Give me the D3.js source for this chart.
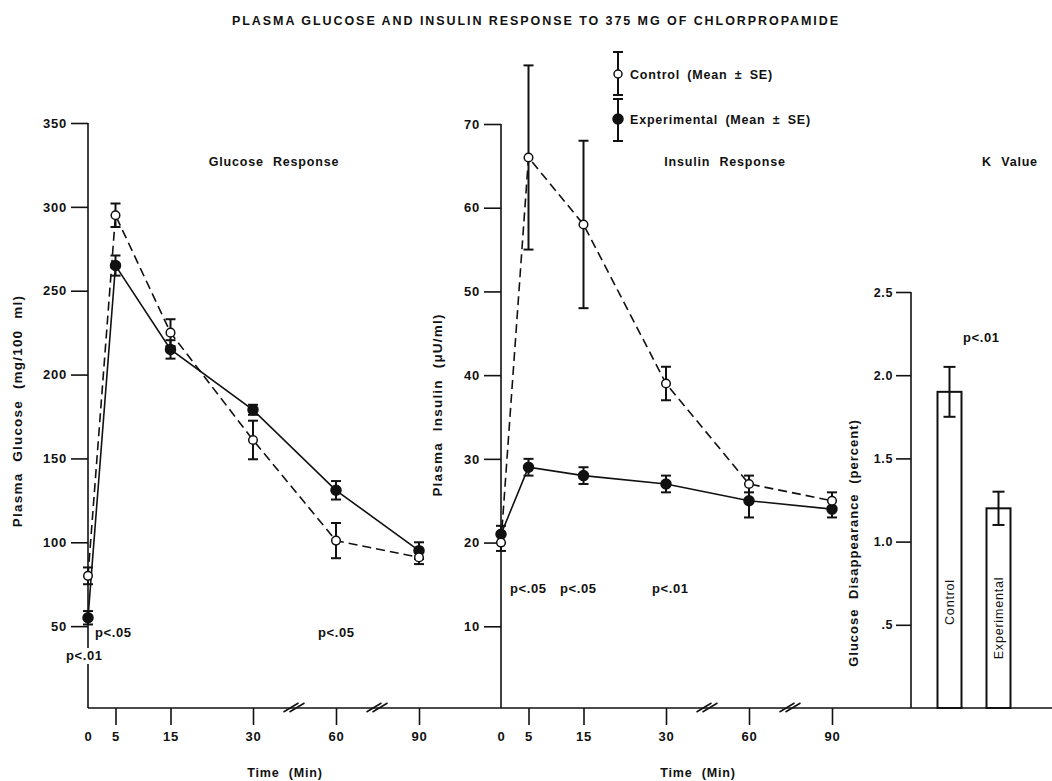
<!DOCTYPE html>
<html>
<head>
<meta charset="utf-8">
<script src="https://cdn.jsdelivr.net/npm/d3@7"></script>
<style>
  html, body { margin: 0; padding: 0; background: #fff; }
  svg { display: block; }
  text { font-family: "Liberation Sans", Arial, sans-serif; fill: #111; font-weight: bold; }
</style>
</head>
<body>
<svg id="chart" width="1052" height="781"></svg>
<script>
// ---------------- data ----------------
const times = [0, 5, 15, 30, 60, 90];
const glucoseControl = [80, 295, 225, 161, 101, 91];
const glucoseControlSE = [5, 7, 8, 11.5, 10.5, 4];
const glucoseExperimental = [55, 265, 215, 179, 131, 95];
const glucoseExperimentalSE = [4, 6, 5.5, 3, 5.5, 5];
const insulinControl = [20, 66, 58, 39, 27, 25];
const insulinControlSE = [1, 11, 10, 2, 1, 1];
const insulinExperimental = [21, 29, 28, 27, 25, 24];
const insulinExperimentalSE = [1, 1, 1, 1, 2, 1];
const kGroups = ["Control", "Experimental"];
const kValues = [1.9, 1.2];
const kSE = [0.15, 0.1];
const glucoseTicks = [50, 100, 150, 200, 250, 300, 350];
const insulinTicks = [10, 20, 30, 40, 50, 60, 70];
const kTicks = [0.5, 1.0, 1.5, 2.0, 2.5];
const kTickLabels = [".5", "1.0", "1.5", "2.0", "2.5"];
const timeBreaks = [45, 75];

// ---------------- layout ----------------
const svg = d3.select("#chart");
const baseY = 708;
const ink = "#111";
const FONT = '"Liberation Sans", Arial, sans-serif';

function styleText(sel, size, ls, ws) {
  return sel.style("font-size", size + "px").style("font-family", FONT).style("font-weight", "bold")
    .attr("fill", ink).attr("letter-spacing", ls || 0).attr("word-spacing", ws || 0);
}

styleText(svg.append("text")
  .attr("x", 232).attr("y", 25)
  .attr("textLength", 606).attr("lengthAdjust", "spacing"), 12.5, 0, 0)
  .text("PLASMA GLUCOSE AND INSULIN RESPONSE TO 375 MG OF CHLORPROPAMIDE");

// baseline shared by all panels
svg.append("line").attr("x1", 88).attr("x2", 1052).attr("y1", baseY).attr("y2", baseY)
  .attr("stroke", ink).attr("stroke-width", 1.6);

function timeScale(x0) {
  // broken axis: 0–30 linear, then 30-min steps compressed
  return d3.scaleLinear().domain([0, 30, 60, 90]).range([x0, x0 + 165, x0 + 248, x0 + 331]);
}

function drawPanel(opt) {
  const x = timeScale(opt.x0);
  const y = d3.scaleLinear().domain([0, opt.max]).range([710, opt.top]);
  const g = svg.append("g");

  // y axis
  const ya = g.append("g").attr("transform", `translate(${opt.x0},0)`)
    .call(d3.axisLeft(y).tickValues(opt.ticks).tickSize(17).tickSizeOuter(0).tickPadding(4));
  ya.select(".domain").attr("stroke", ink).attr("stroke-width", 1.6)
    .attr("d", `M0,${opt.top}V${baseY}`);
  ya.selectAll(".tick line").attr("stroke", ink).attr("stroke-width", 1.6);
  styleText(ya.selectAll(".tick text"), 13, 0.8);

  // x axis
  const xa = g.append("g").attr("transform", `translate(0,${baseY})`)
    .call(d3.axisBottom(x).tickValues(times).tickSize(17).tickSizeOuter(0).tickPadding(7));
  xa.select(".domain").remove();
  xa.selectAll(".tick line").attr("stroke", ink).attr("stroke-width", 1.6)
    .attr("opacity", d => d === 0 ? 0 : 1);
  styleText(xa.selectAll(".tick text"), 13, 0.8);

  // axis breaks
  timeBreaks.forEach(t => {
    const cx = x(t);
    [-3, 3].forEach(off => {
      g.append("line").attr("x1", cx + off - 8).attr("y1", baseY + 4)
        .attr("x2", cx + off + 7).attr("y2", baseY - 5)
        .attr("stroke", ink).attr("stroke-width", 1.5);
    });
  });

  styleText(g.append("text").attr("x", opt.x0 + 197).attr("y", 777).attr("text-anchor", "middle"), 12.5, 0.8, 5)
    .text("Time  (Min)");

  styleText(g.append("text").attr("transform", `translate(${opt.yTitleX},${opt.yTitleY}) rotate(-90)`)
    .attr("text-anchor", "middle"), 13.5, 1.2, 6)
    .text(opt.yTitle);

  styleText(g.append("text").attr("x", opt.titleX).attr("y", 166).attr("text-anchor", "middle"), 12.5, 0.8, 5)
    .text(opt.title);

  const series = [
    { v: opt.control, se: opt.controlSE, dash: "9,5", open: true },
    { v: opt.exp, se: opt.expSE, dash: null, open: false }
  ];
  const line = d3.line().x((d, i) => x(times[i])).y(d => y(d));
  series.forEach(s => {
    g.append("path").datum(s.v).attr("d", line).attr("fill", "none")
      .attr("stroke", ink).attr("stroke-width", 1.6)
      .attr("stroke-dasharray", s.dash);
  });
  series.forEach(s => {
    s.v.forEach((v, i) => {
      const cx = x(times[i]);
      const lo = y(v - s.se[i]), hi = y(v + s.se[i]);
      g.append("line").attr("x1", cx).attr("x2", cx).attr("y1", lo).attr("y2", hi)
        .attr("stroke", ink).attr("stroke-width", 2);
      [lo, hi].forEach(yy => g.append("line").attr("x1", cx - 5).attr("x2", cx + 5)
        .attr("y1", yy).attr("y2", yy).attr("stroke", ink).attr("stroke-width", 2));
    });
  });
  series.slice().reverse().forEach(s => {
    g.selectAll(null).data(s.v).enter().append("circle")
      .attr("cx", (d, i) => x(times[i])).attr("cy", d => y(d))
      .attr("r", s.open ? 4.3 : 5)
      .attr("fill", s.open ? "#fff" : ink).attr("stroke", ink).attr("stroke-width", 1.5);
  });

  (opt.pvals || []).forEach(p => {
    if (p.mask) g.append("rect").attr("x", p.x - 2).attr("y", p.y - 12).attr("width", 44).attr("height", 16).attr("fill", "#fff");
    styleText(g.append("text").attr("x", p.x).attr("y", p.y), 13, 0.6).text(p.t);
  });
}

drawPanel({
  x0: 88, top: 123, max: 350, ticks: glucoseTicks,
  control: glucoseControl, controlSE: glucoseControlSE,
  exp: glucoseExperimental, expSE: glucoseExperimentalSE,
  yTitle: "Plasma Glucose  (mg/100 ml)", yTitleX: 22, yTitleY: 411,
  title: "Glucose  Response", titleX: 274,
  pvals: [
    { t: "p<.05", x: 95, y: 637 },
    { t: "p<.01", x: 66, y: 660, mask: true },
    { t: "p<.05", x: 318, y: 637 }
  ]
});

drawPanel({
  x0: 501, top: 124, max: 70, ticks: insulinTicks,
  control: insulinControl, controlSE: insulinControlSE,
  exp: insulinExperimental, expSE: insulinExperimentalSE,
  yTitle: "Plasma Insulin  (\u03BCU/ml)", yTitleX: 442, yTitleY: 405,
  title: "Insulin  Response", titleX: 725,
  pvals: [
    { t: "p<.05", x: 510, y: 593 },
    { t: "p<.05", x: 560, y: 593 },
    { t: "p<.01", x: 652, y: 593 }
  ]
});

// ---------------- K value panel ----------------
(function () {
  const g = svg.append("g");
  const y = d3.scaleLinear().domain([0, 2.5]).range([baseY, 292]);
  const x = d3.scaleBand().domain(kGroups).range([925, 1023]).paddingInner(1).paddingOuter(0.5);
  const ya = g.append("g").attr("transform", "translate(911,0)")
    .call(d3.axisLeft(y).tickValues(kTicks).tickFormat((d, i) => kTickLabels[i]).tickSize(15).tickSizeOuter(0).tickPadding(3));
  ya.select(".domain").attr("stroke", ink).attr("stroke-width", 1.6).attr("d", `M0,${y(2.5)}V${baseY}`);
  ya.selectAll(".tick line").attr("stroke", ink).attr("stroke-width", 1.6);
  styleText(ya.selectAll(".tick text"), 12.5, 0.6);

  const bw = 24;
  kGroups.forEach((k, i) => {
    const cx = x(k) + x.bandwidth() / 2;
    g.append("rect").attr("x", cx - bw / 2).attr("y", y(kValues[i])).attr("width", bw)
      .attr("height", baseY - y(kValues[i])).attr("fill", "#fff").attr("stroke", ink).attr("stroke-width", 2);
    const lo = y(kValues[i] - kSE[i]), hi = y(kValues[i] + kSE[i]);
    g.append("line").attr("x1", cx).attr("x2", cx).attr("y1", lo).attr("y2", hi).attr("stroke", ink).attr("stroke-width", 2);
    [lo, hi].forEach(yy => g.append("line").attr("x1", cx - 6).attr("x2", cx + 6).attr("y1", yy).attr("y2", yy)
      .attr("stroke", ink).attr("stroke-width", 2));
    styleText(g.append("text").attr("transform", `translate(${cx + 4.5},${i === 0 ? 602 : 618}) rotate(-90)`)
      .attr("text-anchor", "middle"), 12.5, 0.8).style("font-weight", "normal").text(k);
  });

  styleText(g.append("text").attr("transform", "translate(858,543) rotate(-90)").attr("text-anchor", "middle"), 13, 1.0, 5)
    .text("Glucose  Disappearance  (percent)");
  styleText(g.append("text").attr("x", 1010).attr("y", 166).attr("text-anchor", "middle"), 12.5, 0.8, 5)
    .text("K  Value");
  styleText(g.append("text").attr("x", 963).attr("y", 342), 13, 0.6).text("p<.01");
})();

// ---------------- legend ----------------
(function () {
  const g = svg.append("g");
  const items = [
    { label: "Control  (Mean \u00B1 SE)", cy: 74, top: 52, bot: 95, open: true },
    { label: "Experimental  (Mean \u00B1 SE)", cy: 119, top: 99, bot: 141, open: false }
  ];
  const lx = 618;
  items.forEach(it => {
    g.append("line").attr("x1", lx).attr("x2", lx).attr("y1", it.top).attr("y2", it.bot).attr("stroke", ink).attr("stroke-width", 2);
    [it.top, it.bot].forEach(yy => g.append("line").attr("x1", lx - 5).attr("x2", lx + 5).attr("y1", yy).attr("y2", yy)
      .attr("stroke", ink).attr("stroke-width", 2));
    g.append("circle").attr("cx", lx).attr("cy", it.cy).attr("r", it.open ? 4 : 5)
      .attr("fill", it.open ? "#fff" : ink).attr("stroke", ink).attr("stroke-width", 1.5);
    styleText(g.append("text").attr("x", lx + 12).attr("y", it.cy + 4.5), 12.5, 0.8, 3).text(it.label);
  });
})();
</script>
</body>
</html>
